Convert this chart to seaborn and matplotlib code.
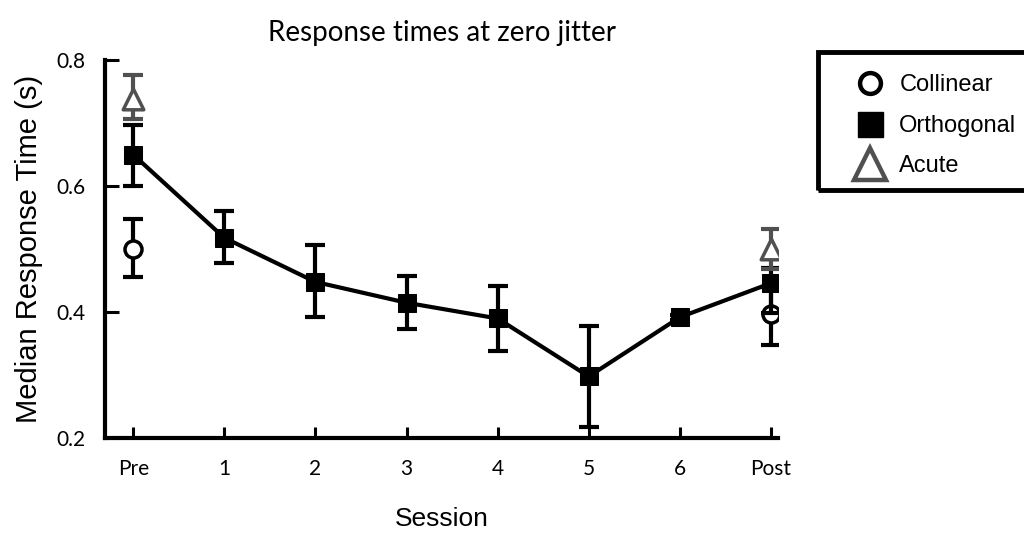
import matplotlib
matplotlib.use("Agg")
import matplotlib.pyplot as plt
import seaborn as sns
import numpy as np
import pandas as pd
from matplotlib.lines import Line2D
from matplotlib.patches import Rectangle

# values
sessions = ["Pre", "1", "2", "3", "4", "5", "6", "Post"]
orthogonal = [0.650, 0.518, 0.448, 0.415, 0.390, 0.298, 0.392, 0.446]
orthogonal_lo = [0.600, 0.478, 0.393, 0.374, 0.338, 0.218, 0.388, 0.398]
orthogonal_hi = [0.697, 0.560, 0.506, 0.458, 0.442, 0.378, 0.396, 0.470]

# collinear / acute only measured at Pre and Post
edge_sessions = ["Pre", "Post"]
collinear = [0.500, 0.397]
collinear_lo = [0.456, 0.348]
collinear_hi = [0.548, 0.440]
acute = [0.738, 0.500]
acute_lo = [0.706, 0.468]
acute_hi = [0.777, 0.532]

GREY = "#505050"

sns.set_style("ticks")
plt.rcParams["font.family"] = ["Liberation Sans", "DejaVu Sans"]
plt.rcParams["text.color"] = "black"
plt.rcParams["axes.labelcolor"] = "black"
plt.rcParams["axes.edgecolor"] = "black"
plt.rcParams["xtick.color"] = "black"
plt.rcParams["ytick.color"] = "black"

pos = {s: i for i, s in enumerate(sessions)}
df_orth = pd.DataFrame({"x": [pos[s] for s in sessions], "rt": orthogonal})
df_edge = pd.DataFrame({"x": [pos[s] for s in edge_sessions],
                        "collinear": collinear, "acute": acute})

fig = plt.figure(figsize=(10.24, 5.37), dpi=100)
ax = fig.add_axes([0.1025, 0.184, 0.6575, 0.704])


def err(y, lo, hi):
    y = np.asarray(y)
    return [y - np.asarray(lo), np.asarray(hi) - y]


# collinear: error bars + open circles
ax.errorbar(df_edge["x"], df_edge["collinear"], yerr=err(collinear, collinear_lo, collinear_hi),
            fmt="none", ecolor="black", elinewidth=3, capsize=7, capthick=3, zorder=2)
sns.scatterplot(data=df_edge, x="x", y="collinear", marker="o", s=150, color="white",
                edgecolor="black", linewidth=2.5, zorder=2.5, ax=ax)

# orthogonal: line with filled squares
ax.errorbar(df_orth["x"], df_orth["rt"], yerr=err(orthogonal, orthogonal_lo, orthogonal_hi),
            fmt="none", ecolor="black", elinewidth=3, capsize=7, capthick=3, zorder=3)
sns.lineplot(data=df_orth, x="x", y="rt", color="black", linewidth=3, marker="s",
             markersize=13, markeredgecolor="black", zorder=4, ax=ax)

# acute: grey open triangles
ax.errorbar(df_edge["x"], df_edge["acute"], yerr=err(acute, acute_lo, acute_hi),
            fmt="none", ecolor=GREY, elinewidth=3, capsize=7, capthick=3, zorder=5)
sns.scatterplot(data=df_edge, x="x", y="acute", marker="^", s=220, color="white",
                edgecolor=GREY, linewidth=2.5, zorder=6, ax=ax)

ax.set_xlim(-0.31, 7.08)
ax.set_ylim(0.2, 0.8)
ax.set_xticks(range(len(sessions)))
ax.set_xticklabels(sessions, fontfamily="Lato", fontsize=15)
ax.set_yticks([0.2, 0.4, 0.6, 0.8])
ax.set_yticklabels(["0.2", "0.4", "0.6", "0.8"], fontfamily="Lato", fontsize=15)
ax.tick_params(axis="y", direction="in", length=10, width=2.2, pad=14)
ax.tick_params(axis="x", direction="in", length=8, width=2.2, pad=15)
sns.despine(ax=ax)
for side in ["left", "bottom"]:
    ax.spines[side].set_linewidth(3)

ax.set_xlabel("Session", fontsize=19, labelpad=20)
ax.set_ylabel("Median Response Time (s)", fontsize=21, labelpad=10)
ax.set_title("Response times at zero jitter", fontfamily="Lato", fontsize=20, pad=14)

# legend with a heavy box running off the right edge
fig.add_artist(Rectangle((0.799, 0.646), 0.26, 0.257, transform=fig.transFigure,
                         fill=False, linewidth=3.5, edgecolor="black"))
handles = [
    Line2D([], [], linestyle="none", marker="o", markersize=15, markerfacecolor="white",
           markeredgecolor="black", markeredgewidth=3.2),
    Line2D([], [], linestyle="none", marker="s", markersize=18, color="black"),
    Line2D([], [], linestyle="none", marker="^", markersize=23, markerfacecolor="white",
           markeredgecolor=GREY, markeredgewidth=3.2),
]
fig.legend(handles, ["Collinear", "Orthogonal", "Acute"], loc="upper left",
           bbox_to_anchor=(0.815, 0.901), frameon=False, fontsize=17,
           labelspacing=0.78, handlelength=1.2, handletextpad=0.64)

fig.savefig("out.png", dpi=100)
